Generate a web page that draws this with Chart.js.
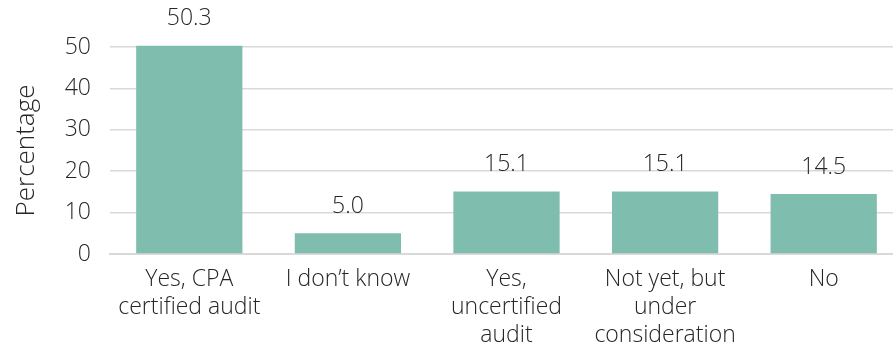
<!DOCTYPE html>
<html>
<head>
<meta charset="utf-8">
<script src="https://cdn.jsdelivr.net/npm/chart.js@4/dist/chart.umd.min.js"></script>
<style>
  html, body { margin: 0; padding: 0; background: #fff; overflow: hidden; }
  #wrap { width: 903px; height: 350px; }
</style>
</head>
<body>
<div id="wrap"><canvas id="audit"></canvas></div>
<script>
const categories = [
  ['Yes, CPA', 'certified audit'],
  ["I don\u2019t know"],
  ['Yes,', 'uncertified', 'audit'],
  ['Not yet, but', 'under', 'consideration'],
  ['No'],
];
const percentages = [50.3, 5.0, 15.1, 15.1, 14.5];
const yTicks = [0, 10, 20, 30, 40, 50];

const textColor = '#262626';
const barColor = '#7fbdae';
const gridColor = '#d9d9d9';
const fontFamily = '"Open Sans", sans-serif';
const fontSize = 23;
const fontWeight = 300;

// draws the value above each bar
const valueLabels = {
  id: 'valueLabels',
  afterDatasetsDraw(chart) {
    const { ctx } = chart;
    const meta = chart.getDatasetMeta(0);
    ctx.save();
    ctx.font = fontWeight + ' ' + fontSize + 'px ' + fontFamily;
    ctx.fillStyle = textColor;
    ctx.textAlign = 'center';
    ctx.textBaseline = 'middle';
    meta.data.forEach((bar, i) => {
      ctx.fillText(percentages[i].toFixed(1), bar.x, bar.y - 27);
    });
    ctx.restore();
  },
};

const font = { family: fontFamily, size: fontSize, weight: fontWeight };

new Chart(document.getElementById('audit'), {
  type: 'bar',
  data: {
    labels: categories,
    datasets: [{
      data: percentages,
      backgroundColor: barColor,
      barPercentage: 0.67,
      categoryPercentage: 1,
      clip: false,
    }],
  },
  options: {
    responsive: true,
    maintainAspectRatio: false,
    animation: false,
    layout: { padding: { top: 47, left: 0, right: 0, bottom: 0 } },
    plugins: {
      legend: { display: false },
      tooltip: { enabled: false },
    },
    scales: {
      x: {
        afterFit: (axis) => { axis.height = 96; },
        grid: { display: false },
        border: { color: gridColor, width: 2 },
        ticks: {
          color: textColor,
          font: { ...font, lineHeight: 1.2 },
          padding: 4,
          maxRotation: 0,
          autoSkip: false,
        },
      },
      y: {
        min: 0,
        max: 50,
        afterBuildTicks: (axis) => { axis.ticks = yTicks.map((v) => ({ value: v })); },
        afterFit: (axis) => { axis.width = 110; },
        grid: { color: gridColor, lineWidth: 1.5, drawTicks: false },
        border: { display: false },
        ticks: {
          color: textColor,
          font,
          padding: 19,
        },
        title: {
          display: true,
          text: 'Percentage',
          color: textColor,
          font: { ...font, size: 26 },
          padding: { top: 11, bottom: 10 },
        },
      },
    },
  },
  plugins: [valueLabels],
});
</script>
</body>
</html>
